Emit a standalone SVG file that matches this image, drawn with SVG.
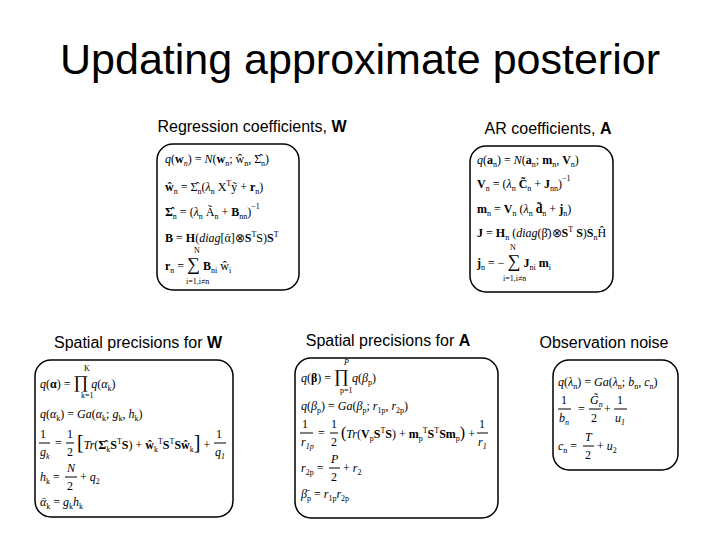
<svg xmlns="http://www.w3.org/2000/svg" width="720" height="540" viewBox="0 0 720 540">
<style>
.t{font-family:"Liberation Sans",Arial,sans-serif;fill:#000}
.box{fill:#fff;stroke:#000;stroke-width:1.5}
.f{font-family:"Liberation Serif","Times New Roman",serif;font-size:12px;fill:#000}
.s{font-size:8px}
</style>
<rect width="720" height="540" fill="#fff"/>
<text class="t" x="360" y="74" font-size="43" text-anchor="middle">Updating approximate posterior</text>
<text class="t" x="252" y="132" font-size="16" text-anchor="middle">Regression coefficients, <tspan font-weight="bold">W</tspan></text>
<text class="t" x="548" y="134" font-size="16" text-anchor="middle">AR coefficients, <tspan font-weight="bold">A</tspan></text>
<text class="t" x="138" y="348" font-size="16" text-anchor="middle">Spatial precisions for <tspan font-weight="bold">W</tspan></text>
<text class="t" x="388" y="346" font-size="16" text-anchor="middle">Spatial precisions for <tspan font-weight="bold">A</tspan></text>
<text class="t" x="604" y="348" font-size="16" text-anchor="middle">Observation noise</text>

<g id="box-w">
<rect class="box" x="157" y="144" width="142" height="146" rx="16"/>
<text class="f" x="165" y="163"><tspan font-style="italic">q</tspan>(<tspan font-weight="bold">w</tspan><tspan class="s" dy="3" font-style="italic">n</tspan><tspan dy="-3">) = </tspan><tspan font-style="italic">N</tspan>(<tspan font-weight="bold">w</tspan><tspan class="s" dy="3">n</tspan><tspan dy="-3">; ŵ</tspan><tspan class="s" dy="3">n</tspan><tspan dy="-3">, Σ̂</tspan><tspan class="s" dy="3">n</tspan><tspan dy="-3">)</tspan></text>
<text class="f" x="165" y="191"><tspan font-weight="bold">ŵ</tspan><tspan class="s" dy="3">n</tspan><tspan dy="-3"> = Σ̂</tspan><tspan class="s" dy="3">n</tspan><tspan dy="-3">(</tspan><tspan font-style="italic">λ</tspan><tspan class="s" dy="3">n</tspan><tspan dy="-3"> X</tspan><tspan class="s" dy="-5">T</tspan><tspan dy="5">ỹ + </tspan><tspan font-weight="bold">r</tspan><tspan class="s" dy="3">n</tspan><tspan dy="-3">)</tspan></text>
<text class="f" x="165" y="216"><tspan font-weight="bold">Σ̂</tspan><tspan class="s" dy="3">n</tspan><tspan dy="-3"> = (</tspan><tspan font-style="italic">λ</tspan><tspan class="s" dy="3">n</tspan><tspan dy="-3"> Ã</tspan><tspan class="s" dy="3">n</tspan><tspan dy="-3"> + </tspan><tspan font-weight="bold">B</tspan><tspan class="s" dy="3">nn</tspan><tspan dy="-3">)</tspan><tspan class="s" dy="-7">−1</tspan></text>
<text class="f" x="165" y="242"><tspan font-weight="bold">B</tspan> = <tspan font-weight="bold">H</tspan>(<tspan font-style="italic">diag</tspan>[ᾱ]⊗<tspan font-weight="bold">S</tspan><tspan class="s" dy="-5">T</tspan><tspan dy="5">S)</tspan><tspan font-weight="bold">S</tspan><tspan class="s" dy="-5">T</tspan></text>
<text class="f" x="165" y="270"><tspan font-weight="bold">r</tspan><tspan class="s" dy="3">n</tspan><tspan dy="-3"> =  </tspan><tspan font-size="18">∑</tspan><tspan> </tspan><tspan font-weight="bold">B</tspan><tspan class="s" dy="3">ni</tspan><tspan dy="-3"> ŵ</tspan><tspan class="s" dy="3">i</tspan></text>
<text class="f s" x="194" y="253">N</text>
<text class="f s" x="186" y="284">i=1,i≠n</text>
</g>

<g id="box-a">
<rect class="box" x="470" y="146" width="143" height="146" rx="16"/>
<text class="f" x="477" y="164"><tspan font-style="italic">q</tspan>(<tspan font-weight="bold">a</tspan><tspan class="s" dy="3">n</tspan><tspan dy="-3">) = </tspan><tspan font-style="italic">N</tspan>(<tspan font-weight="bold">a</tspan><tspan class="s" dy="3">n</tspan><tspan dy="-3">; </tspan><tspan font-weight="bold">m</tspan><tspan class="s" dy="3">n</tspan><tspan dy="-3">, </tspan><tspan font-weight="bold">V</tspan><tspan class="s" dy="3">n</tspan><tspan dy="-3">)</tspan></text>
<text class="f" x="477" y="188"><tspan font-weight="bold">V</tspan><tspan class="s" dy="3">n</tspan><tspan dy="-3"> = (</tspan><tspan font-style="italic">λ</tspan><tspan class="s" dy="3">n</tspan><tspan dy="-3"> </tspan><tspan font-weight="bold">C̃</tspan><tspan class="s" dy="3">n</tspan><tspan dy="-3"> + </tspan><tspan font-weight="bold">J</tspan><tspan class="s" dy="3">nn</tspan><tspan dy="-3">)</tspan><tspan class="s" dy="-7">−1</tspan></text>
<text class="f" x="477" y="213"><tspan font-weight="bold">m</tspan><tspan class="s" dy="3">n</tspan><tspan dy="-3"> = </tspan><tspan font-weight="bold">V</tspan><tspan class="s" dy="3">n</tspan><tspan dy="-3"> (</tspan><tspan font-style="italic">λ</tspan><tspan class="s" dy="3">n</tspan><tspan dy="-3"> </tspan><tspan font-weight="bold">d̃</tspan><tspan class="s" dy="3">n</tspan><tspan dy="-3"> + </tspan><tspan font-weight="bold">j</tspan><tspan class="s" dy="3">n</tspan><tspan dy="-3">)</tspan></text>
<text class="f" x="477" y="237"><tspan font-weight="bold">J</tspan> = <tspan font-weight="bold">H</tspan><tspan class="s" dy="3">n</tspan><tspan dy="-3"> (</tspan><tspan font-style="italic">diag</tspan>(β̄)⊗<tspan font-weight="bold">S</tspan><tspan class="s" dy="-5">T</tspan><tspan dy="5"> </tspan><tspan font-weight="bold">S</tspan>)<tspan font-weight="bold">S</tspan><tspan class="s" dy="3">n</tspan><tspan dy="-3">Ĥ</tspan></text>
<text class="f" x="477" y="267"><tspan font-weight="bold">j</tspan><tspan class="s" dy="3">n</tspan><tspan dy="-3"> = − </tspan><tspan font-size="18">∑</tspan><tspan> </tspan><tspan font-weight="bold">J</tspan><tspan class="s" dy="3">ni</tspan><tspan dy="-3"> </tspan><tspan font-weight="bold">m</tspan><tspan class="s" dy="3">i</tspan></text>
<text class="f s" x="510" y="250">N</text>
<text class="f s" x="503" y="281">i=1,i≠n</text>
</g>

<g id="box-alpha">
<rect class="box" x="35" y="360" width="198" height="157" rx="16"/>
<text class="f" x="40" y="388"><tspan font-style="italic">q</tspan>(<tspan font-weight="bold">α</tspan>) = <tspan font-size="18">∏</tspan> <tspan font-style="italic">q</tspan>(<tspan font-style="italic">α</tspan><tspan class="s" dy="3">k</tspan><tspan dy="-3">)</tspan></text>
<text class="f s" x="84" y="371">K</text>
<text class="f s" x="81" y="398">k=1</text>
<text class="f" x="40" y="418"><tspan font-style="italic">q</tspan>(<tspan font-style="italic">α</tspan><tspan class="s" dy="3">k</tspan><tspan dy="-3">) = </tspan><tspan font-style="italic">Ga</tspan>(<tspan font-style="italic">α</tspan><tspan class="s" dy="3">k</tspan><tspan dy="-3">; </tspan><tspan font-style="italic">g</tspan><tspan class="s" dy="3">k</tspan><tspan dy="-3">, </tspan><tspan font-style="italic">h</tspan><tspan class="s" dy="3">k</tspan><tspan dy="-3">)</tspan></text>
<text class="f" x="40" y="438">1</text><line x1="39" y1="443" x2="50" y2="443" stroke="#000"/><text class="f" x="40" y="456" font-style="italic">g<tspan class="s" dy="3">k</tspan></text>
<text class="f" x="55" y="447">=</text>
<text class="f" x="67" y="438">1</text><line x1="66" y1="443" x2="74" y2="443" stroke="#000"/><text class="f" x="67" y="456">2</text>
<text class="f" x="77" y="449"><tspan font-size="20">[</tspan><tspan font-style="italic">Tr</tspan>(<tspan font-weight="bold">Σ̂</tspan><tspan class="s" dy="3">k</tspan><tspan dy="-3" font-weight="bold">S</tspan><tspan class="s" dy="-5">T</tspan><tspan dy="5" font-weight="bold">S</tspan>) + <tspan font-weight="bold">ŵ</tspan><tspan class="s" dy="3">k</tspan><tspan class="s" dy="-8">T</tspan><tspan dy="5" font-weight="bold">S</tspan><tspan class="s" dy="-5">T</tspan><tspan dy="5" font-weight="bold">Sŵ</tspan><tspan class="s" dy="3">k</tspan><tspan dy="-3" font-size="20">]</tspan><tspan> +</tspan></text>
<text class="f" x="216" y="438">1</text><line x1="214" y1="443" x2="226" y2="443" stroke="#000"/><text class="f" x="215" y="456" font-style="italic">q<tspan class="s" dy="3">1</tspan></text>
<text class="f" x="40" y="481"><tspan font-style="italic">h</tspan><tspan class="s" dy="3">k</tspan><tspan dy="-3"> = </tspan></text>
<text class="f" x="67" y="472" font-style="italic">N</text><line x1="65" y1="477" x2="77" y2="477" stroke="#000"/><text class="f" x="67" y="490">2</text>
<text class="f" x="80" y="481">+ <tspan font-style="italic">q</tspan><tspan class="s" dy="3">2</tspan></text>
<text class="f" x="40" y="506"><tspan font-style="italic">ᾱ</tspan><tspan class="s" dy="3">k</tspan><tspan dy="-3"> = </tspan><tspan font-style="italic">g</tspan><tspan class="s" dy="3">k</tspan><tspan dy="-3" font-style="italic">h</tspan><tspan class="s" dy="3">k</tspan></text>
</g>

<g id="box-beta">
<rect class="box" x="295" y="358" width="203" height="160" rx="16"/>
<text class="f" x="301" y="382"><tspan font-style="italic">q</tspan>(<tspan font-weight="bold">β</tspan>) = <tspan font-size="18">∏</tspan> <tspan font-style="italic">q</tspan>(<tspan font-style="italic">β</tspan><tspan class="s" dy="3">p</tspan><tspan dy="-3">)</tspan></text>
<text class="f s" x="344" y="365" font-style="italic">P</text>
<text class="f s" x="340" y="393">p=1</text>
<text class="f" x="301" y="410"><tspan font-style="italic">q</tspan>(<tspan font-style="italic">β</tspan><tspan class="s" dy="3">p</tspan><tspan dy="-3">) = </tspan><tspan font-style="italic">Ga</tspan>(<tspan font-style="italic">β</tspan><tspan class="s" dy="3">p</tspan><tspan dy="-3">; </tspan><tspan font-style="italic">r</tspan><tspan class="s" dy="3">1p</tspan><tspan dy="-3">, </tspan><tspan font-style="italic">r</tspan><tspan class="s" dy="3">2p</tspan><tspan dy="-3">)</tspan></text>
<text class="f" x="302" y="428">1</text><line x1="300" y1="433" x2="313" y2="433" stroke="#000"/><text class="f" x="301" y="446" font-style="italic">r<tspan class="s" dy="3">1p</tspan></text>
<text class="f" x="318" y="437">=</text>
<text class="f" x="331" y="428">1</text><line x1="330" y1="433" x2="338" y2="433" stroke="#000"/><text class="f" x="331" y="446">2</text>
<text class="f" x="341" y="438"><tspan font-size="16">(</tspan><tspan font-style="italic">Tr</tspan>(<tspan font-weight="bold">V</tspan><tspan class="s" dy="3">p</tspan><tspan dy="-3" font-weight="bold">S</tspan><tspan class="s" dy="-5">T</tspan><tspan dy="5" font-weight="bold">S</tspan>) + <tspan font-weight="bold">m</tspan><tspan class="s" dy="3">p</tspan><tspan class="s" dy="-8">T</tspan><tspan dy="5" font-weight="bold">S</tspan><tspan class="s" dy="-5">T</tspan><tspan dy="5" font-weight="bold">Sm</tspan><tspan class="s" dy="3">p</tspan><tspan dy="-3" font-size="16">)</tspan><tspan> +</tspan></text>
<text class="f" x="479" y="428">1</text><line x1="477" y1="433" x2="488" y2="433" stroke="#000"/><text class="f" x="478" y="446" font-style="italic">r<tspan class="s" dy="3">1</tspan></text>
<text class="f" x="301" y="472"><tspan font-style="italic">r</tspan><tspan class="s" dy="3">2p</tspan><tspan dy="-3"> = </tspan></text>
<text class="f" x="331" y="463" font-style="italic">P</text><line x1="329" y1="468" x2="340" y2="468" stroke="#000"/><text class="f" x="331" y="481">2</text>
<text class="f" x="343" y="472">+ <tspan font-style="italic">r</tspan><tspan class="s" dy="3">2</tspan></text>
<text class="f" x="301" y="498"><tspan font-style="italic">β̄</tspan><tspan class="s" dy="3">p</tspan><tspan dy="-3"> = </tspan><tspan font-style="italic">r</tspan><tspan class="s" dy="3">1p</tspan><tspan dy="-3" font-style="italic">r</tspan><tspan class="s" dy="3">2p</tspan></text>
</g>

<g id="box-lambda">
<rect class="box" x="553" y="360" width="125" height="110" rx="16"/>
<text class="f" x="558" y="386"><tspan font-style="italic">q</tspan>(<tspan font-style="italic">λ</tspan><tspan class="s" dy="3">n</tspan><tspan dy="-3">) = </tspan><tspan font-style="italic">Ga</tspan>(<tspan font-style="italic">λ</tspan><tspan class="s" dy="3">n</tspan><tspan dy="-3">; </tspan><tspan font-style="italic">b</tspan><tspan class="s" dy="3">n</tspan><tspan dy="-3">, </tspan><tspan font-style="italic">c</tspan><tspan class="s" dy="3">n</tspan><tspan dy="-3">)</tspan></text>
<text class="f" x="561" y="404">1</text><line x1="558" y1="409" x2="571" y2="409" stroke="#000"/><text class="f" x="559" y="422" font-style="italic">b<tspan class="s" dy="3">n</tspan></text>
<text class="f" x="578" y="413">=</text>
<text class="f" x="590" y="404" font-style="italic">G̃<tspan class="s" dy="3">n</tspan></text><line x1="589" y1="409" x2="601" y2="409" stroke="#000"/><text class="f" x="591" y="422">2</text>
<text class="f" x="604" y="413">+</text>
<text class="f" x="617" y="404">1</text><line x1="614" y1="409" x2="627" y2="409" stroke="#000"/><text class="f" x="615" y="422" font-style="italic">u<tspan class="s" dy="3">1</tspan></text>
<text class="f" x="558" y="450"><tspan font-style="italic">c</tspan><tspan class="s" dy="3">n</tspan><tspan dy="-3"> = </tspan></text>
<text class="f" x="585" y="441" font-style="italic">T</text><line x1="583" y1="446" x2="594" y2="446" stroke="#000"/><text class="f" x="585" y="459">2</text>
<text class="f" x="597" y="450">+ <tspan font-style="italic">u</tspan><tspan class="s" dy="3">2</tspan></text>
</g>
</svg>
